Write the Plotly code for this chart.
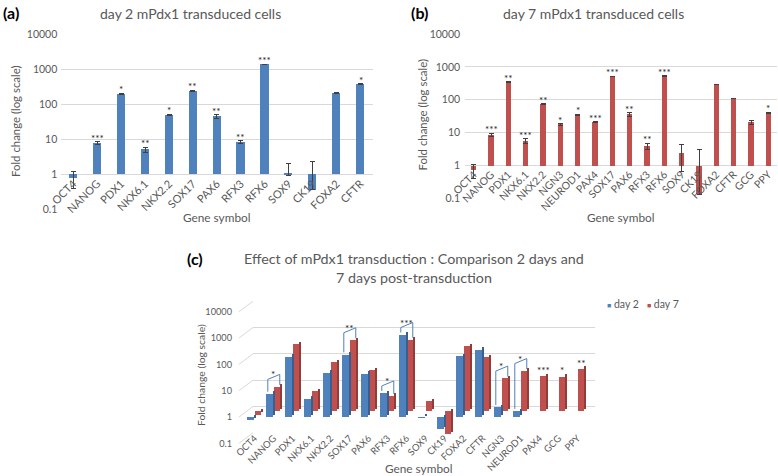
import math
import plotly.graph_objects as go

W, H = 778, 476

# ---------------- data ----------------
TICK_VALUES = [0.1, 1, 10, 100, 1000, 10000]
TICK_TEXT = ["0.1", "1", "10", "100", "1000", "10000"]

# (a) day 2
GENES_A = ["OCT4", "NANOG", "PDX1", "NKX6.1", "NKX2.2", "SOX17", "PAX6",
           "RFX3", "RFX6", "SOX9", "CK19", "FOXA2", "CFTR"]
FOLD_A = [0.78, 7.7, 197, 5.07, 49.5, 240, 44.5, 8.2, 1360, 0.97, 0.35, 211, 373]
ERR_A_PLUS = [0.39, 0.85, 6, 0.8, 2, 8, 6, 0.9, 30, 1.09, 2.0, 5, 12]
ERR_A_MINUS = [0.39, 0.85, 6, 0.8, 2, 8, 6, 0.9, 30, 0.05, 0.0, 5, 12]
STARS_A = ["", "***", "*", "**", "*", "**", "**", "**", "***", "", "", "", "*"]

# (b) day 7
GENES_B = ["OCT4", "NANOG", "PDX1", "NKX6.1", "NKX2.2", "NGN3", "NEUROD1", "PAX4",
           "SOX17", "PAX6", "RFX3", "RFX6", "SOX9", "CK19", "FOXA2", "CFTR", "GCG", "PPY"]
FOLD_B = [0.74, 8.6, 349, 5.66, 74.5, 17.8, 34.4, 21, 508, 36, 3.9, 532, 2.45, 0.136,
          297, 111, 20.5, 40.5]
ERR_B_PLUS = [0.33, 0.9, 10, 0.85, 2, 1, 1.5, 0.5, 10, 5, 0.9, 10, 1.8, 3.0, 5, 2, 2.5, 1.5]
ERR_B_MINUS = [0.33, 0.9, 10, 0.85, 2, 1, 1.5, 0.5, 10, 5, 0.9, 10, 1.8, 0.0, 5, 2, 2.5, 1.5]
STARS_B = ["", "***", "**", "***", "**", "*", "*", "***", "***", "**", "**", "***",
           "", "", "", "", "", "*"]

# (c) comparison
GENES_C = ["OCT4", "NANOG", "PDX1", "NKX6.1", "NKX2.2", "SOX17", "PAX6", "RFX3", "RFX6",
           "SOX9", "CK19", "FOXA2", "CFTR", "NGN3", "NEUROD1", "PAX4", "GCG", "PPY"]
DAY2_C = [0.78, 7.7, 197, 5.07, 49.5, 240, 44.5, 8.2, 1360, 0.95, 0.35, 211, 373,
          2.4, 1.7, None, None, None]
DAY7_C = [0.74, 8.6, 349, 5.66, 74.5, 508, 36, 3.9, 532, 2.45, 0.136, 297, 111,
          17.8, 34.4, 21, 20.5, 40.5]
BRACKET_GENES = ["NANOG", "SOX17", "RFX3", "RFX6", "NGN3", "NEUROD1"]
BRACKET_STARS = ["*", "**", "*", "***", "*", "*"]
DAY7_ONLY_STARS = {"PAX4": "***", "GCG": "*", "PPY": "**"}

# ---------------- style ----------------
FONT = "Lato"
GRAY = "#595959"
GRID = "#D9D9D9"
BLUE, BLUE_SIDE = "#4F81BD", "#3A5F8F"
RED, RED_SIDE = "#C0504D", "#923C3A"
ERRC = "#404040"
STARC = "#1a1a1a"


def fx(px):
    return px / W


def fy(py):
    return 1 - py / H


# panel (c) geometry (pixels)
C_Y01, C_Y10K = 443.3, 311.7
PPD = (C_Y01 - C_Y10K) / 5.0          # pixels per decade
D_BS = 2.5 / PPD                      # blue side face raise
D_RF = 6.0 / PPD                      # red (back row) raise
D_RS = 8.5 / PPD                      # red side face raise
BACK_DX, BACK_DY = 14.0, 10.5

fig = go.Figure()

# ---------- (a) ----------
fig.add_trace(go.Bar(
    x=list(range(len(GENES_A))), y=[v - 1 for v in FOLD_A], base=1, width=0.34,
    marker=dict(color=BLUE, line=dict(width=0)),
    error_y=dict(type="data", symmetric=False, array=ERR_A_PLUS, arrayminus=ERR_A_MINUS,
                 color=ERRC, thickness=1, width=2.5),
    xaxis="x", yaxis="y", showlegend=False, hoverinfo="skip"))

# ---------- (b) ----------
fig.add_trace(go.Bar(
    x=list(range(len(GENES_B))), y=[v - 1 for v in FOLD_B], base=1, width=0.31,
    marker=dict(color=RED, line=dict(width=0)),
    error_y=dict(type="data", symmetric=False, array=ERR_B_PLUS, arrayminus=ERR_B_MINUS,
                 color=ERRC, thickness=1, width=2.5),
    xaxis="x2", yaxis="y2", showlegend=False, hoverinfo="skip"))

# ---------- (c) ----------
# back wall grid holder
fig.add_trace(go.Scatter(x=[0.5], y=[1], mode="markers", marker=dict(opacity=0),
                         xaxis="x3", yaxis="y3", showlegend=False, hoverinfo="skip"))
idx_c = list(range(len(GENES_C)))
d7 = [v - 1 for v in DAY7_C]
d2 = [None if v is None else v - 1 for v in DAY2_C]
fig.add_trace(go.Bar(x=idx_c, y=d2, base=1, offset=-0.40, width=0.38, name="day 2",
                     marker=dict(color=BLUE, line=dict(width=0)),
                     xaxis="x4", yaxis="y7", showlegend=False, hoverinfo="skip"))
fig.add_trace(go.Bar(x=idx_c, y=d7, base=1, offset=0.02, width=0.33, name="day 7",
                     marker=dict(color=RED, line=dict(width=0)),
                     xaxis="x4", yaxis="y5", showlegend=False, hoverinfo="skip"))
fig.add_trace(go.Bar(x=idx_c, y=d7, base=1, offset=0.35, width=0.12,
                     marker=dict(color=RED_SIDE, line=dict(width=0)),
                     xaxis="x4", yaxis="y4", showlegend=False, hoverinfo="skip"))
fig.add_trace(go.Bar(x=idx_c, y=d2, base=1, offset=-0.02, width=0.12,
                     marker=dict(color=BLUE_SIDE, line=dict(width=0)),
                     xaxis="x4", yaxis="y6", showlegend=False, hoverinfo="skip"))

annotations = []

# brackets (drawn on the back-row axis y5)
for g, s in zip(BRACKET_GENES, BRACKET_STARS):
    i = GENES_C.index(g)
    bl = math.log10(DAY2_C[i]) - D_RF
    rl = math.log10(DAY7_C[i])
    r_hi = max(bl, rl) + 12 / PPD
    l_hi = r_hi - 5 / PPD
    l_lo = bl + 2 / PPD
    r_lo = rl + 1.5 / PPD
    xs = [i - 0.30, i - 0.30, i + 0.33, i + 0.33]
    ys = [10 ** l_lo, 10 ** l_hi, 10 ** r_hi, 10 ** r_lo]
    fig.add_trace(go.Scatter(x=xs, y=ys, mode="lines", line=dict(color=BLUE, width=1),
                             xaxis="x4", yaxis="y5", showlegend=False, hoverinfo="skip"))
    annotations.append(dict(x=i - 0.02, y=r_hi, xref="x4", yref="y5", text=s,
                            showarrow=False, yanchor="middle", yshift=0,
                            font=dict(family=FONT, size=10, color=STARC)))
for g, s in DAY7_ONLY_STARS.items():
    i = GENES_C.index(g)
    annotations.append(dict(x=i + 0.19, y=math.log10(DAY7_C[i]), xref="x4", yref="y5",
                            text=s, showarrow=False, yanchor="bottom", yshift=-2,
                            font=dict(family=FONT, size=10, color=STARC)))

# stars (a) and (b)
for i, (s, v, e) in enumerate(zip(STARS_A, FOLD_A, ERR_A_PLUS)):
    if s:
        annotations.append(dict(x=i, y=math.log10(v + e), xref="x", yref="y", text=s,
                                showarrow=False, yanchor="bottom", yshift=-4,
                                font=dict(family=FONT, size=10, color=STARC)))
for i, (s, v, e) in enumerate(zip(STARS_B, FOLD_B, ERR_B_PLUS)):
    if s:
        annotations.append(dict(x=i, y=math.log10(v + e), xref="x2", yref="y2", text=s,
                                showarrow=False, yanchor="bottom", yshift=-4,
                                font=dict(family=FONT, size=10, color=STARC)))


def txt(px, py, text, size, color=GRAY, angle=0, xanchor="center", bold=False):
    annotations.append(dict(x=fx(px), y=fy(py), xref="paper", yref="paper",
                            text=f"<b>{text}</b>" if bold else text, showarrow=False,
                            textangle=angle, xanchor=xanchor, yanchor="middle",
                            font=dict(family=FONT, size=size, color=color)))


txt(1, 12, "(a)", 16, "#000000", xanchor="left", bold=True)
txt(409, 12, "(b)", 16, "#000000", xanchor="left", bold=True)
txt(185, 258, "(c)", 16, "#000000", xanchor="left", bold=True)
txt(190, 13.5, "day 2 mPdx1 transduced cells", 14)
txt(593, 13.5, "day 7 mPdx1 transduced cells", 14)
txt(414, 258.5, "Effect of mPdx1 transduction : Comparison 2 days and", 14.3)
txt(414, 277.5, "7 days post-transduction", 14.3)
txt(217, 218, "Gene symbol", 11.8)
txt(620, 218, "Gene symbol", 11.8)
txt(418, 468, "Gene symbol", 11.8)
txt(16, 122, "Fold change (log scale)", 11.4, angle=-90)
txt(421.5, 115, "Fold change (log scale)", 11.4, angle=-90)
txt(201, 375, "Fold change (log scale)", 10.4, angle=-90)
annotations.append(dict(
    x=fx(605), y=fy(303.5), xref="paper", yref="paper", xanchor="left", yanchor="middle",
    showarrow=False,
    text=(f'<span style="color:{BLUE};font-size:7px">■</span> day 2&nbsp;&nbsp;&nbsp;'
          f'<span style="color:{RED};font-size:7px">■</span> day 7'),
    font=dict(family=FONT, size=10.5, color=GRAY)))

# back wall grid diagonals for (c)
shapes = []
for t in TICK_VALUES:
    k = math.log10(t) + 1
    y_front = C_Y01 - k * PPD
    shapes.append(dict(type="line", xref="paper", yref="paper",
                       x0=fx(239), y0=fy(y_front), x1=fx(239 + BACK_DX),
                       y1=fy(y_front - BACK_DY), line=dict(color=GRID, width=1),
                       layer="below"))

tickfont = dict(family=FONT, size=10.5, color=GRAY)
common_y = dict(type="log", range=[-1, 4], tickvals=TICK_VALUES, ticktext=TICK_TEXT,
                ticks="", showline=False, zeroline=False, tickfont=tickfont,
                automargin=False)
common_x = dict(ticks="", showline=False, zeroline=False, showgrid=False,
                tickangle=-45, anchor="free", automargin=False)

fig.update_layout(
    width=W, height=H, margin=dict(l=0, r=0, t=0, b=0, pad=0, autoexpand=False),
    paper_bgcolor="white", plot_bgcolor="rgba(0,0,0,0)",
    font=dict(family=FONT, color=GRAY),
    showlegend=False, bargap=0,
    annotations=annotations, shapes=shapes,
    xaxis=dict(domain=[fx(61.3), fx(372.5)], range=[-0.5, 12.5],
               tickvals=list(range(len(GENES_A))), ticktext=GENES_A,
               position=fy(174.3), tickfont=dict(family=FONT, size=11, color=GRAY),
               **common_x),
    yaxis=dict(domain=[fy(209), fy(34.3)], anchor="x", showgrid=True, gridcolor=GRID,
               gridwidth=1, ticklabelstandoff=3, **common_y),
    xaxis2=dict(domain=[fx(465.1), fx(777)], range=[-0.5, 17.5],
                tickvals=list(range(len(GENES_B))), ticktext=GENES_B,
                position=fy(165.5), tickfont=dict(family=FONT, size=10.5, color=GRAY),
                **common_x),
    yaxis2=dict(domain=[fy(198.5), fy(34)], anchor="x2", showgrid=True, gridcolor=GRID,
                gridwidth=1, ticklabelstandoff=4, **common_y),
    xaxis3=dict(domain=[fx(239 + BACK_DX), fx(595)], range=[0, 1], visible=False,
                anchor="y3", automargin=False),
    yaxis3=dict(type="log", range=[-1, 4], domain=[fy(C_Y01 - BACK_DY), fy(C_Y10K - BACK_DY)],
                anchor="x3", tickvals=TICK_VALUES, showticklabels=False, ticks="",
                showgrid=True, gridcolor=GRID, gridwidth=1, zeroline=False, showline=False,
                automargin=False),
    xaxis4=dict(domain=[fx(245), fx(587)], range=[-0.5, 17.5],
                tickvals=idx_c, ticktext=GENES_C, position=fy(430),
                tickfont=dict(family=FONT, size=9.5, color=GRAY), **common_x),
    yaxis4=dict(type="log", range=[-1 - D_RS, 4 - D_RS], domain=[fy(C_Y01), fy(C_Y10K)],
                anchor="x4", visible=False, automargin=False),
    yaxis5=dict(type="log", range=[-1 - D_RF, 4 - D_RF], overlaying="y4", anchor="x4",
                visible=False, automargin=False),
    yaxis6=dict(type="log", range=[-1 - D_BS, 4 - D_BS], overlaying="y4", anchor="x4",
                visible=False, automargin=False),
    yaxis7=dict(overlaying="y4", anchor="x4", side="left", showgrid=False,
                ticklabelstandoff=12,
                **{**common_y, "tickfont": dict(family=FONT, size=9.2, color=GRAY)}),
)

fig.write_html(
    "out.html",
    config={"displayModeBar": False},
    post_script="document.body.style.margin='0';document.body.style.overflow='hidden';",
)
